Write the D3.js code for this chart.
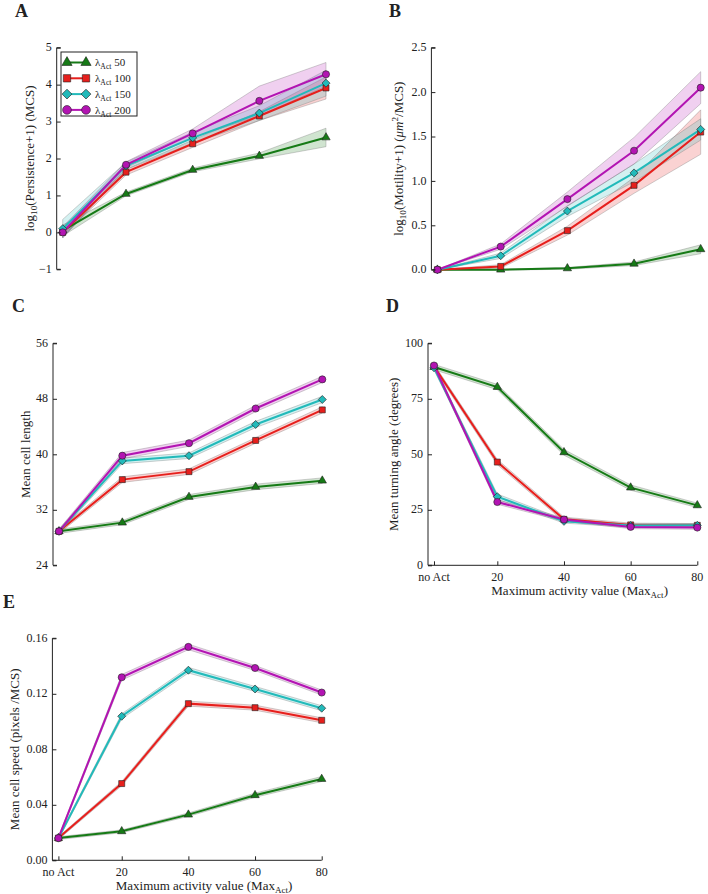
<!DOCTYPE html>
<html>
<head>
<meta charset="utf-8">
<script src="https://cdn.jsdelivr.net/npm/d3@7"></script>
<style>
  body { margin: 0; background: #fff; }
  text { font-family: "Liberation Serif", "DejaVu Serif", serif; fill: #222; }
</style>
</head>
<body>
<div id="chart"></div>
<script>
// x positions (no Act plotted at 1) and their labels
const xValues = [1, 20, 40, 60, 80];
const xTickLabels = ["no Act", "20", "40", "60", "80"];
const lambdas = ["50", "100", "150", "200"];

// one row per lambda: 50, 100, 150, 200
const persistenceMean = [
  [0.05, 1.04, 1.69, 2.07, 2.57],
  [0.0, 1.63, 2.40, 3.15, 3.91],
  [0.10, 1.80, 2.56, 3.23, 4.04],
  [0.0, 1.83, 2.68, 3.56, 4.28]
];
const persistenceErr = [
  [0.15, 0.05, 0.05, 0.08, 0.25],
  [0.10, 0.08, 0.10, 0.12, 0.30],
  [0.25, 0.10, 0.15, 0.20, 0.35],
  [0.15, 0.08, 0.12, 0.40, 0.32]
];
const persistenceTicks = [-1, 0, 1, 2, 3, 4, 5];

const motilityMean = [
  [0.0, 0.0, 0.015, 0.067, 0.23],
  [0.0, 0.037, 0.44, 0.95, 1.55],
  [0.0, 0.157, 0.66, 1.09, 1.58],
  [0.0, 0.26, 0.795, 1.34, 2.05]
];
const motilityErr = [
  [0.0, 0.005, 0.01, 0.02, 0.05],
  [0.0, 0.02, 0.05, 0.09, 0.25],
  [0.0, 0.03, 0.06, 0.10, 0.12],
  [0.0, 0.03, 0.08, 0.15, 0.18]
];
const motilityTicks = [0, 0.5, 1.0, 1.5, 2.0, 2.5];

const lengthMean = [
  [28.9, 30.15, 33.85, 35.3, 36.2],
  [28.9, 36.35, 37.5, 42.0, 46.4],
  [28.9, 39.05, 39.8, 44.3, 47.9],
  [28.9, 39.8, 41.6, 46.6, 50.8]
];
const lengthErr = [
  [0.3, 0.3, 0.35, 0.4, 0.4],
  [0.3, 0.4, 0.4, 0.4, 0.45],
  [0.3, 0.4, 0.4, 0.45, 0.45],
  [0.3, 0.45, 0.45, 0.45, 0.45]
];
const lengthTicks = [24, 32, 40, 48, 56];

const angleMean = [
  [89.3, 80.3, 50.9, 35.0, 27.0],
  [89.6, 46.5, 20.7, 18.2, 18.0],
  [89.0, 30.9, 19.8, 17.9, 18.0],
  [90.0, 28.5, 20.6, 17.3, 17.0]
];
const angleErr = [
  [1.2, 1.2, 1.3, 1.2, 1.0],
  [1.0, 1.2, 1.0, 0.8, 0.8],
  [1.0, 1.2, 0.8, 0.8, 0.8],
  [1.0, 1.0, 0.8, 0.8, 0.8]
];
const angleTicks = [0, 25, 50, 75, 100];

const speedMean = [
  [0.016, 0.0209, 0.0329, 0.0469, 0.0586],
  [0.016, 0.0553, 0.1129, 0.1100, 0.1009],
  [0.016, 0.1038, 0.1370, 0.1235, 0.1096],
  [0.016, 0.1319, 0.1538, 0.1386, 0.1209]
];
const speedErr = [
  [0.001, 0.001, 0.0012, 0.0015, 0.0018],
  [0.001, 0.0015, 0.0018, 0.0018, 0.0018],
  [0.001, 0.0018, 0.002, 0.0018, 0.0018],
  [0.001, 0.002, 0.002, 0.0018, 0.0018]
];
const speedTicks = [0, 0.04, 0.08, 0.12, 0.16];

const colors = ["#167a16", "#e61f1c", "#22baba", "#b214b2"];
// triangle, square, diamond (rotated square), circle
const symbols = [d3.symbolTriangle, d3.symbolSquare, d3.symbolSquare, d3.symbolCircle];
const symbolRotate = [0, 0, 45, 0];
const symbolSizes = [30, 36, 32, 40];

const width = 708;
const height = 894;
const plotWidth = 269.3;

const svg = d3.select("#chart").append("svg")
  .attr("width", width)
  .attr("height", height);

svg.append("rect").attr("width", width).attr("height", height).attr("fill", "#fff");

// write text made of plain / subscript / superscript / italic pieces
function richText(el, parts, size) {
  let shift = 0;
  parts.forEach(p => {
    const ts = el.append("tspan").text(p.t);
    let target = 0;
    if (p.sub) target = size * 0.28;
    if (p.sup) target = -size * 0.38;
    if (target !== shift) ts.attr("dy", target - shift);
    shift = target;
    if (p.sub || p.sup) ts.attr("font-size", size * 0.7);
    if (p.it) ts.attr("font-style", "italic");
  });
}

function marker(sel, i, scale) {
  sel.attr("d", d3.symbol().type(symbols[i]).size(symbolSizes[i] * scale))
    .attr("fill", colors[i])
    .attr("stroke", "#222")
    .attr("stroke-width", 0.6);
}

function drawPanel(opt) {
  const g = svg.append("g");
  const x = d3.scaleLinear().domain([-0.8, 80]).range([opt.left, opt.left + plotWidth]);
  const y = d3.scaleLinear().domain(opt.domain).range([opt.bottom, opt.top]);

  // bands first, so all lines sit above them
  opt.mean.forEach((row, i) => {
    const area = d3.area()
      .x((d, j) => x(xValues[j]))
      .y0((d, j) => y(d - opt.err[i][j]))
      .y1((d, j) => y(d + opt.err[i][j]));
    g.append("path")
      .attr("d", area(row))
      .attr("fill", colors[i])
      .attr("fill-opacity", 0.2)
      .attr("stroke", "#777")
      .attr("stroke-opacity", 0.35)
      .attr("stroke-width", 1);
  });

  opt.mean.forEach((row, i) => {
    const line = d3.line().x((d, j) => x(xValues[j])).y(d => y(d));
    g.append("path")
      .attr("d", line(row))
      .attr("fill", "none")
      .attr("stroke", colors[i])
      .attr("stroke-width", 2);
  });

  opt.mean.forEach((row, i) => {
    g.selectAll(null)
      .data(row)
      .enter().append("path")
      .attr("transform", (d, j) => `translate(${x(xValues[j])},${y(d)}) rotate(${symbolRotate[i]})`)
      .call(marker, i, 1);
  });

  // y axis, ticks pointing inwards
  const yAxis = g.append("g")
    .attr("transform", `translate(${opt.left},0)`)
    .call(d3.axisRight(y).tickValues(opt.ticks).tickSize(4).tickFormat(""));
  yAxis.select(".domain").attr("d", `M4,${opt.bottom}H0V${opt.top}H4`).attr("stroke", "#222");
  yAxis.selectAll("line").attr("stroke", "#222");
  g.selectAll(null)
    .data(opt.ticks)
    .enter().append("text")
    .attr("x", opt.left - 5)
    .attr("y", d => y(d))
    .attr("dy", "0.3em")
    .attr("text-anchor", "end")
    .attr("font-size", 12)
    .text(d => d3.format(opt.fmt)(d));

  if (opt.xAxis) {
    const xAxis = g.append("g")
      .attr("transform", `translate(0,${opt.bottom})`)
      .call(d3.axisTop(x).tickValues(xValues).tickSize(4).tickFormat(""));
    xAxis.select(".domain").attr("d", `M${opt.left},0H${x(80)}`).attr("stroke", "#222");
    xAxis.selectAll("line").attr("stroke", "#222");
    g.selectAll(null)
      .data(xValues)
      .enter().append("text")
      .attr("x", d => x(d))
      .attr("y", opt.bottom + 16)
      .attr("text-anchor", "middle")
      .attr("font-size", 12)
      .text((d, j) => xTickLabels[j]);
    const xl = g.append("text")
      .attr("x", opt.left + plotWidth / 2 + 17)
      .attr("y", opt.bottom + 29.5)
      .attr("text-anchor", "middle")
      .attr("font-size", 13);
    richText(xl, [{ t: "Maximum activity value (Max" }, { t: "Act", sub: true }, { t: ")" }], 13);
  }

  const yl = g.append("text")
    .attr("transform", `translate(${opt.labelX},${(opt.top + opt.bottom) / 2}) rotate(-90)`)
    .attr("text-anchor", "middle")
    .attr("dy", "0.35em")
    .attr("font-size", 13);
  richText(yl, opt.label, 13);

  g.append("text")
    .attr("x", opt.letterX)
    .attr("y", opt.letterY)
    .attr("font-size", 18)
    .attr("font-weight", "bold")
    .text(opt.letter);

  return { g, x, y };
}

drawPanel({
  letter: "A", letterX: 15, letterY: 17,
  left: 56.7, top: 47.7, bottom: 269.3, domain: [-1, 5],
  mean: persistenceMean, err: persistenceErr, ticks: persistenceTicks, fmt: "d",
  labelX: 29,
  label: [{ t: "log" }, { t: "10", sub: true }, { t: "(Persistence+1) (MCS)" }]
});

drawPanel({
  letter: "B", letterX: 389, letterY: 17,
  left: 431.4, top: 47.7, bottom: 269.7, domain: [0, 2.5],
  mean: motilityMean, err: motilityErr, ticks: motilityTicks, fmt: ".1f",
  labelX: 398,
  label: [{ t: "log" }, { t: "10", sub: true }, { t: "(Motility+1) (" }, { t: "μm", it: true },
    { t: "2", sup: true }, { t: "/MCS)" }]
});

drawPanel({
  letter: "C", letterX: 12, letterY: 312,
  left: 53, top: 343.3, bottom: 565.3, domain: [24, 56],
  mean: lengthMean, err: lengthErr, ticks: lengthTicks, fmt: "d",
  labelX: 25.5,
  label: [{ t: "Mean cell length" }]
});

drawPanel({
  letter: "D", letterX: 386, letterY: 312,
  left: 428, top: 343.3, bottom: 565.3, domain: [0, 100],
  mean: angleMean, err: angleErr, ticks: angleTicks, fmt: "d", xAxis: true,
  labelX: 393,
  label: [{ t: "Mean turning angle (degrees)" }]
});

drawPanel({
  letter: "E", letterX: 3, letterY: 608,
  left: 52.4, top: 638.3, bottom: 860.3, domain: [0, 0.16],
  mean: speedMean, err: speedErr, ticks: speedTicks, fmt: ".2f", xAxis: true,
  labelX: 14,
  label: [{ t: "Mean cell speed (pixels /MCS)" }]
});

// legend in panel A
const legend = svg.append("g");
legend.append("rect")
  .attr("x", 61).attr("y", 52).attr("width", 76).attr("height", 64)
  .attr("fill", "#fff").attr("stroke", "#222").attr("stroke-width", 1);
lambdas.forEach((name, i) => {
  const ly = 62.5 + i * 15.8;
  legend.append("line")
    .attr("x1", 67).attr("x2", 86).attr("y1", ly).attr("y2", ly)
    .attr("stroke", colors[i]).attr("stroke-width", 2);
  [67, 86].forEach(lx => {
    legend.append("path")
      .attr("transform", `translate(${lx},${ly}) rotate(${symbolRotate[i]})`)
      .call(marker, i, 1.5);
  });
  const t = legend.append("text")
    .attr("x", 95).attr("y", ly).attr("dy", "0.35em")
    .attr("font-size", 11);
  richText(t, [{ t: "λ" }, { t: "Act", sub: true }, { t: " " + name }], 11);
});
</script>
</body>
</html>
